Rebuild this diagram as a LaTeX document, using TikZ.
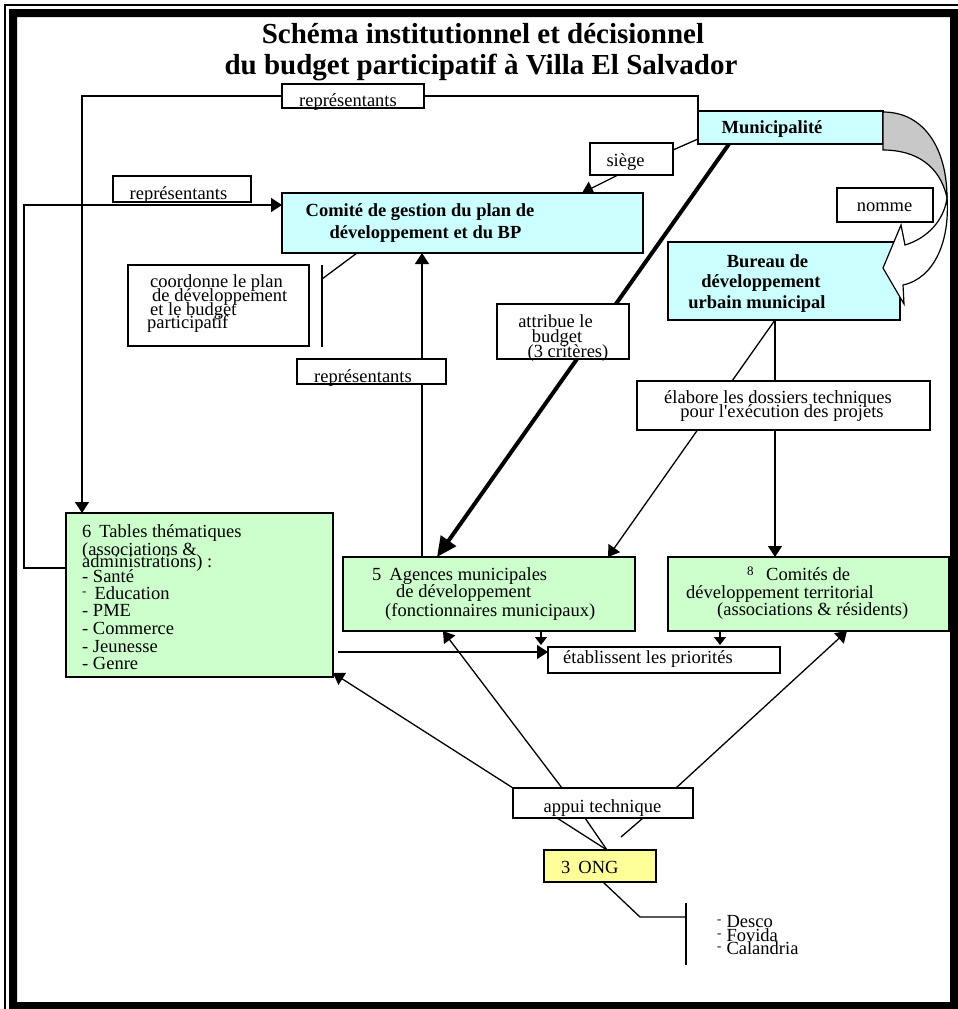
\documentclass[tikz,border=0pt]{standalone}
\usepackage{fontspec}
\setmainfont{Liberation Serif}
\usetikzlibrary{arrows.meta,backgrounds}
\definecolor{cyanb}{HTML}{CCFFFF}
\definecolor{greenb}{HTML}{CCFFCC}
\definecolor{yellowb}{HTML}{FFFF99}
\definecolor{grayb}{HTML}{C8C8C8}
\newcommand\bodyf{\fontsize{18.5}{18}\selectfont}
\newcommand\bodyb{\fontsize{18.5}{18}\selectfont\bfseries}
\newcommand\titf{\fontsize{29}{31}\selectfont\bfseries}
\newcommand\smdash{\raisebox{4pt}{\fontsize{13}{13}\selectfont -}}
\newcommand\sq{{\XeTeXglyph\XeTeXcharglyph"27\relax}}
\begin{document}
\begin{tikzpicture}[x=1pt,y=-1pt,
  bx/.style={draw, line width=1.3pt, inner sep=0pt, outer sep=0pt},
  conn/.style={line width=1.3pt},
  arr/.style={conn, -{Triangle[length=11pt,width=14pt]}},
  sarr/.style={conn, -{Triangle[length=8pt,width=12pt]}},
  tx/.style={inner sep=0pt, anchor=base, font=\bodyf},
  txl/.style={inner sep=0pt, anchor=base west, font=\bodyf},
  txb/.style={inner sep=0pt, anchor=base, font=\bodyb},
]
\useasboundingbox (0,0) rectangle (958,1009);

% ---------- boxes ----------
\node[bx, fill=white, minimum width=142pt, minimum height=24pt] (rA) at (353,96) {};
\node[bx, fill=white, minimum width=138pt, minimum height=26pt] (rB) at (182,189) {};
\node[bx, fill=cyanb, minimum width=361pt, minimum height=60pt] (com) at (462.5,223) {};
\node[bx, fill=cyanb, minimum width=185pt, minimum height=33pt] (mun) at (790.5,127.5) {};
\node[bx, fill=white, minimum width=83pt, minimum height=32pt] (sie) at (631.5,159) {};
\node[bx, fill=white, minimum width=96pt, minimum height=34pt] (nom) at (885,205) {};
\node[bx, fill=cyanb, minimum width=232pt, minimum height=78pt] (bur) at (784,281) {};
\node[bx, fill=white, minimum width=181pt, minimum height=81pt] (coo) at (218.5,305.5) {};
\node[bx, fill=white, minimum width=149pt, minimum height=25pt] (rC) at (371.5,371.5) {};
\node[bx, fill=white, minimum width=132pt, minimum height=55pt] (att) at (563,331.5) {};
\node[bx, fill=white, minimum width=293pt, minimum height=49pt] (ela) at (783.5,405.5) {};
\node[bx, fill=greenb, minimum width=267pt, minimum height=164pt] (tab) at (199.5,595) {};
\node[bx, fill=greenb, minimum width=292pt, minimum height=74pt] (age) at (489,594) {};
\node[bx, fill=greenb, minimum width=281pt, minimum height=74pt] (cdt) at (808.5,594) {};
\node[bx, fill=white, minimum width=232pt, minimum height=26pt] (eta) at (664,660) {};
\node[bx, fill=white, minimum width=180pt, minimum height=30pt] (app) at (603,803) {};
\node[bx, fill=yellowb, minimum width=112pt, minimum height=32pt] (ong) at (600,866) {};

% ---------- free coordinates ----------
\coordinate (lc) at (24,205);
\coordinate (cA) at (322,279);
\coordinate (cB) at (322,265);
\coordinate (cC) at (322,347);
\coordinate (dg) at (621,837);
\coordinate (lA) at (640,917);
\coordinate (lB) at (686,917);
\coordinate (lT) at (686,903);
\coordinate (lD) at (686,965);

% ---------- connectors ----------
\begin{scope}[on background layer]
\draw[conn] (mun.north west) |- (rA.east);
\draw[arr] (rA.west) -| ([xshift=16pt]tab.north west);
\draw[arr] ([yshift=-55pt]tab.north west) -| (lc) -- ([yshift=18pt]com.west);
\draw[conn] ([yshift=5pt]mun.south west) -- ([yshift=9pt]sie.east);
\draw[arr] ([xshift=-13.5pt]sie.south) -- ([xshift=119.5pt]com.north);
\draw[line width=4pt, -{Triangle[length=20pt,width=18pt]}] ([xshift=-61.5pt]mun.south) -- ([xshift=-52pt]age.north);
\draw[arr] ([xshift=-67pt]age.north) -- ([xshift=-40.5pt]com.south);
\draw[conn] ([xshift=-105.5pt]com.south) -- (cA);
\draw[conn] (cB) -- (cC);
\draw[arr] ([xshift=-9pt]bur.south) -- ([xshift=-33.5pt]cdt.north);
\draw[arr] ([xshift=-9pt]bur.south) -- ([xshift=119pt]age.north);
\draw[arr] ([xshift=5pt,yshift=-57pt]tab.east) -- ([yshift=8pt]eta.west);
\draw[sarr] ([xshift=52pt]age.south) -- ([xshift=-123pt,yshift=2pt]eta.north);
\draw[sarr] ([xshift=-88.5pt]cdt.south) -- ([xshift=56pt,yshift=2pt]eta.north);
\draw[arr] (app.north west) -- ([yshift=4pt]tab.south east);
\draw[arr] ([xshift=-41pt]app.north) -- ([xshift=-46pt]age.south);
\draw[arr] ([xshift=73pt]app.north) -- ([xshift=38.5pt]cdt.south);
\draw[conn] ([xshift=-46pt]app.south) -- ([xshift=7pt]ong.north);
\draw[conn] ([xshift=-18pt]app.south) -- ([xshift=7pt]ong.north);
\draw[conn] ([xshift=40pt]app.south) -- (dg);
\draw[conn] ([xshift=3pt]ong.south) -- (lA) -- (lB);
\draw[conn] (lT) -- (lD);
\end{scope}

% ---------- curved arrow (nomme) ----------
\filldraw[fill=grayb, line width=1.2pt] (883,112) .. controls (925,112) and (947,150) .. (947,198)
   .. controls (940,165) and (915,150) .. (883,150) -- cycle;
\filldraw[fill=white, line width=1.2pt] (947,198) .. controls (950,240) and (935,278) .. (903,285)
   -- (904,304) -- (883,268) -- (901,225) -- (905,245)
   .. controls (928,238) and (944,220) .. (947,198) -- cycle;

% ---------- texts ----------
\node[inner sep=0pt, anchor=base, font=\titf] (ti1) at (483,43) {Schéma institutionnel et décisionnel};
\node[inner sep=0pt, anchor=base, font=\titf] (ti2) at (481,74) {du budget participatif à Villa El Salvador};

\node[tx] (trA) at (348,106) {représentants};
\node[tx] (trB) at (178.5,199) {représentants};
\node[tx] (trC) at (363,382) {représentants};
\node[txb] (tmun) at (772,133) {Municipalité};
\node[tx] (tsie) at (625.5,166) {siège};
\node[tx] (tnom) at (884.5,211) {nomme};
\node[txb] (tcom1) at (420,216) {Comité de gestion du plan de};
\node[txb] (tcom2) at (425.5,238) {développement et du BP};
\node[txb] (tbur1) at (767.5,267) {Bureau de};
\node[txb] (tbur2) at (761,287) {développement};
\node[txb] (tbur3) at (757,308) {urbain municipal};
\node[txl] (tcoo1) at (150,287) {coordonne le plan};
\node[txl] (tcoo2) at (152,301) {de développement};
\node[txl] (tcoo3) at (150,315) {et le budget};
\node[txl] (tcoo4) at (147,328) {participatif};
\node[tx] (tatt1) at (555.5,327) {attribue le};
\node[tx] (tatt2) at (557,342) {budget};
\node[tx] (tatt3) at (568,357) {(3 critères)};
\node[tx] (tela1) at (778,403) {élabore les dossiers techniques};
\node[tx] (tela2) at (782,417) {pour l\sq exécution des projets};
\node[txl] (tage1) at (372,580) {5\hspace{8pt}Agences municipales};
\node[txl] (tage2) at (396,597) {de développement};
\node[txl] (tage3) at (385,616) {(fonctionnaires municipaux)};
\node[inner sep=0pt, anchor=base west, font=\fontsize{13}{13}\selectfont] (tcdt0) at (747,575) {8};
\node[txl] (tcdt1) at (766,580) {Comités de};
\node[txl] (tcdt2) at (686,598) {développement territorial};
\node[txl] (tcdt3) at (717,615) {(associations \& résidents)};
\node[txl] (ttab1) at (82,537) {6\hspace{8pt}Tables thématiques};
\node[txl] (ttab2) at (82,555) {(associations \&};
\node[txl] (ttab3) at (82,567) {administrations) :};
\node[txl] (ttab4) at (82,582) {- Santé};
\node[txl] (ttab5) at (82,599) {\smdash\hspace{8pt}Education};
\node[txl] (ttab6) at (82,616) {- PME};
\node[txl] (ttab7) at (82,634) {- Commerce};
\node[txl] (ttab8) at (82,652) {- Jeunesse};
\node[txl] (ttab9) at (82,669) {- Genre};
\node[txl] (teta) at (563,663) {établissent les priorités};
\node[tx] (tapp) at (602.5,812) {appui technique};
\node[txl] (tong) at (561,873) {3\hspace{8pt}ONG};
\node[txl] (tl1) at (717,927) {\smdash\hspace{5pt}Desco};
\node[txl] (tl2) at (717,941) {\smdash\hspace{5pt}Fovida};
\node[txl] (tl3) at (717,954) {\smdash\hspace{5pt}Calandria};

% ---------- page frame ----------
\fill[black, even odd rule] (9,9) rectangle (958,1009) (17,17) rectangle (950,1002);
\draw[line width=1.6pt] (5,1009) -- (5,5) -- (958,5);
\end{tikzpicture}
\end{document}
